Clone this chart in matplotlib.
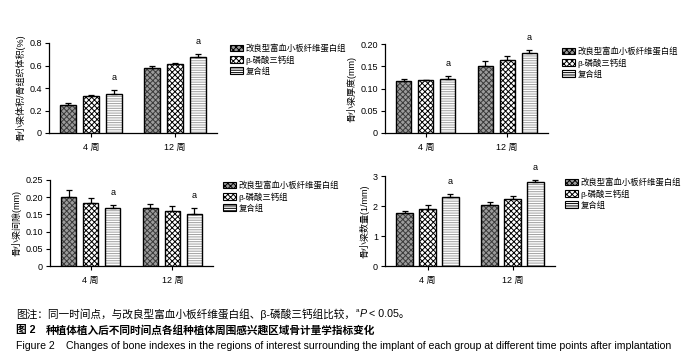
import matplotlib

matplotlib.use("Agg")
import matplotlib.pyplot as plt
import numpy as np
from matplotlib.patches import Patch

plt.rcParams.update(
    {
        "font.family": ["Liberation Sans", "Noto Sans CJK SC", "DejaVu Sans"],
        "axes.unicode_minus": False,
        "hatch.linewidth": 0.7,
    }
)

W, H = 695, 363

# ---- data ----
time_labels = ["4 周", "12 周"]
group_labels = ["改良型富血小板纤维蛋白组", "β-磷酸三钙组", "复合组"]

bv_tv_mean = [[0.25, 0.58], [0.33, 0.61], [0.35, 0.68]]
bv_tv_err = [[0.02, 0.015], [0.01, 0.01], [0.03, 0.02]]

tb_th_mean = [[0.116, 0.151], [0.119, 0.163], [0.122, 0.180]]
tb_th_err = [[0.006, 0.010], [0.001, 0.011], [0.006, 0.006]]

tb_sp_mean = [[0.202, 0.169], [0.182, 0.159], [0.168, 0.152]]
tb_sp_err = [[0.020, 0.010], [0.015, 0.016], [0.008, 0.016]]

tb_n_mean = [[1.77, 2.03], [1.91, 2.25], [2.30, 2.79]]
tb_n_err = [[0.08, 0.10], [0.12, 0.08], [0.10, 0.08]]

# bar styles: (face, hatch, hatch colour)
STYLES = [
    ("#9c9c9c", "xxxxxx", "#3a3a3a"),
    ("#ffffff", "xxxxxx", "#000000"),
    ("#ffffff", "-------", "#a0a0a0"),
]


def px_rect(left, right, bottom, top):
    return [left / W, 1 - bottom / H, (right - left) / W, (bottom - top) / H]


def draw_panel(fig, rect, means, errs, ylim, yticks, yticklabels, ylabel, legend_xy):
    ax = fig.add_axes(rect)
    x = np.arange(len(time_labels), dtype=float)
    step = 0.27
    width = 0.19
    for i, (face, hatch, hcol) in enumerate(STYLES):
        pos = x + (i - 1) * step
        ax.bar(pos, means[i], width, color=face, hatch=hatch, edgecolor=hcol, linewidth=0, zorder=2)
        ax.bar(pos, means[i], width, fill=False, edgecolor="black", linewidth=1.0, zorder=3)
        ax.errorbar(
            pos,
            means[i],
            yerr=[np.zeros(len(pos)), errs[i]],
            fmt="none",
            ecolor="black",
            elinewidth=0.9,
            capsize=2.3,
            capthick=0.9,
            zorder=4,
        )
        if i == 2:
            for p, m, e in zip(pos, means[i], errs[i]):
                ax.annotate("a", (p, m + e), xytext=(0, 9), textcoords="offset points",
                            ha="center", va="center", fontsize=6.5)
    ax.set_xlim(-0.5, 1.5)
    ax.set_ylim(*ylim)
    ax.set_xticks(x)
    ax.set_xticklabels(time_labels, fontsize=6.5)
    ax.set_yticks(yticks)
    ax.set_yticklabels(yticklabels, fontsize=6.5)
    ax.set_ylabel(ylabel, fontsize=6.5, labelpad=3)
    for side in ["top", "right"]:
        ax.spines[side].set_visible(False)
    for side in ["left", "bottom"]:
        ax.spines[side].set_linewidth(0.9)
    ax.tick_params(axis="both", direction="out", length=3, width=0.8, pad=2)
    ax.tick_params(axis="x", pad=4)

    handles = [
        Patch(facecolor=face, hatch=hatch, edgecolor="black", linewidth=0.8)
        for face, hatch, _ in STYLES
    ]
    fig.legend(
        handles,
        group_labels,
        loc="upper left",
        bbox_to_anchor=(legend_xy[0] / W, 1 - legend_xy[1] / H),
        frameon=False,
        fontsize=6,
        handlelength=1.6,
        handleheight=0.85,
        handletextpad=0.3,
        labelspacing=0.3,
        borderpad=0,
        borderaxespad=0,
    )
    return ax


fig = plt.figure(figsize=(W / 100, H / 100), dpi=100)
fig.patch.set_facecolor("white")

draw_panel(fig, px_rect(49, 217, 133, 43), bv_tv_mean, bv_tv_err, (0, 0.8),
           [0, 0.2, 0.4, 0.6, 0.8], ["0", "0.2", "0.4", "0.6", "0.8"],
           "骨小梁体积/骨组织体积(%)", (230, 44))
draw_panel(fig, px_rect(385, 548, 133, 44), tb_th_mean, tb_th_err, (0, 0.20),
           [0, 0.05, 0.10, 0.15, 0.20], ["0", "0.05", "0.10", "0.15", "0.20"],
           "骨小梁厚度(mm)", (562, 47))
draw_panel(fig, px_rect(50, 213, 266, 180), tb_sp_mean, tb_sp_err, (0, 0.25),
           [0, 0.05, 0.10, 0.15, 0.20, 0.25], ["0", "0.05", "0.10", "0.15", "0.20", "0.25"],
           "骨小梁间隙(mm)", (223, 181))
draw_panel(fig, px_rect(385, 555, 266, 176), tb_n_mean, tb_n_err, (0, 3),
           [0, 1, 2, 3], ["0", "1", "2", "3"],
           "骨小梁数量(1/mm)", (565, 178))

# ---- caption ----
CAP = 7.7
CAP_EN = 7.55
renderer = fig.canvas.get_renderer()


def put(xpx, ypx, s, **kw):
    t = fig.text(xpx / W, 1 - ypx / H, s, va="center", ha="left", **kw)
    return t.get_window_extent(renderer).x1


x_end = put(16, 314, "图注：同一时间点，与改良型富血小板纤维蛋白组、β-磷酸三钙组比较，", fontsize=CAP)
x_end = put(x_end + 1, 311, "a", fontsize=CAP * 0.6)
x_end = put(x_end, 314, "P", fontsize=CAP, fontstyle="italic")
put(x_end + 2, 314, "< 0.05。", fontsize=CAP)

put(16, 330, "图 2", fontsize=CAP, fontweight="bold")
put(46, 330, "种植体植入后不同时间点各组种植体周围感兴趣区域骨计量学指标变化", fontsize=CAP, fontweight="bold")

put(16, 346, "Figure 2", fontsize=CAP_EN)
put(66, 346, "Changes of bone indexes in the regions of interest surrounding the implant "
    "of each group at different time points after implantation", fontsize=CAP_EN)

fig.savefig("out.png", dpi=100, facecolor="white")
